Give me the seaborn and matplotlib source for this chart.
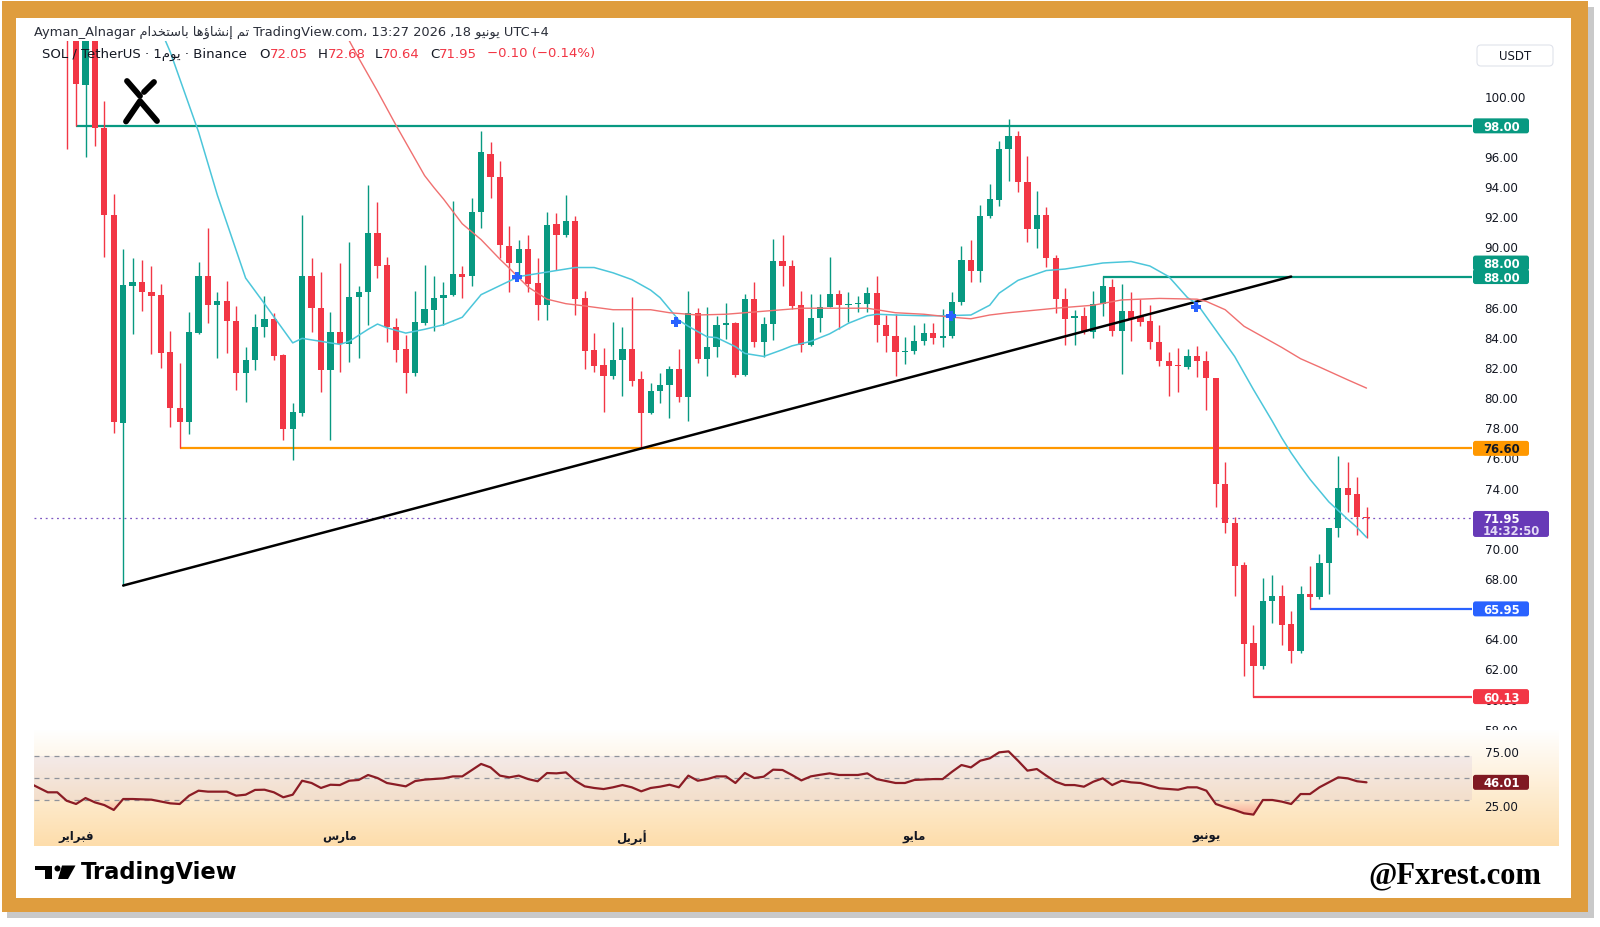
import numpy as np
import pandas as pd
import matplotlib
matplotlib.use("Agg")
import matplotlib.pyplot as plt
import matplotlib.dates as mdates
from matplotlib.colors import LinearSegmentedColormap, to_rgb
from matplotlib.patches import Rectangle, FancyBboxPatch, Polygon, Circle
from matplotlib.path import Path
import seaborn as sns

W, H = 1600, 928
GREEN, RED, TEXT = "#089981", "#F23645", "#131722"

# ========== data ==========
first_day = "2026-01-31"   # candle 1, last candle (139) is 18 June 2026

opens = [108.0, 104.5, 100.73, 104.2, 97.83, 92.11, 78.28, 87.39, 87.61, 86.99,
         86.78, 82.97, 79.25, 78.33, 84.25, 88.06, 86.11, 86.40, 85.07, 81.58,
         82.48, 84.67, 85.18, 82.81, 77.88, 78.95, 88.06, 85.91, 81.80, 84.30,
         83.52, 86.62, 86.99, 90.87, 88.79, 84.67, 83.19, 81.58, 84.90, 85.80,
         86.55, 86.78, 88.17, 88.01, 92.26, 96.13, 94.58, 90.05, 88.88, 89.83,
         87.55, 86.13, 91.49, 90.76, 91.71, 86.55, 83.15, 82.13, 81.38, 82.48,
         83.19, 81.20, 78.92, 80.38, 80.80, 81.86, 79.98, 85.56, 82.53, 83.30,
         84.81, 84.92, 81.49, 86.51, 83.68, 84.85, 89.05, 88.72, 86.11, 83.46,
         85.25, 86.00, 86.84, 86.13, 86.18, 86.18, 86.89, 84.80, 84.03, 82.97,
         83.08, 83.74, 84.23, 83.90, 84.08, 86.29, 89.12, 88.39, 92.00, 93.10,
         96.46, 97.35, 94.25, 91.15, 92.10, 89.23, 86.51, 85.25, 85.36, 84.30,
         86.18, 87.28, 84.37, 85.74, 85.34, 85.07, 83.68, 82.42, 82.13, 82.00,
         82.70, 82.42, 81.27, 74.23, 71.62, 68.86, 63.66, 62.18, 66.45, 66.82,
         64.94, 63.13, 66.93, 66.76, 68.97, 71.29, 73.97, 73.57, 72.05]
highs = [110.0, 106.0, 105.5, 105.0, 99.67, 93.48, 89.83, 89.21, 89.10, 88.68,
         87.50, 84.41, 82.24, 85.63, 88.94, 91.22, 86.95, 87.68, 86.07, 83.30,
         85.51, 86.69, 85.58, 82.86, 79.61, 92.08, 89.23, 88.28, 85.63, 88.90,
         90.27, 87.39, 94.07, 92.92, 89.27, 85.23, 84.12, 87.06, 88.79, 88.06,
         87.66, 92.99, 88.68, 93.19, 97.68, 96.95, 95.64, 91.37, 90.42, 90.76,
         89.21, 92.26, 92.22, 93.43, 91.99, 87.02, 84.25, 83.24, 85.00, 84.63,
         86.62, 81.75, 80.93, 81.60, 82.09, 83.19, 87.02, 85.89, 85.96, 85.40,
         86.24, 84.96, 86.84, 87.66, 85.29, 90.49, 90.76, 89.12, 87.06, 86.84,
         86.84, 89.27, 87.13, 86.95, 86.73, 87.28, 88.06, 85.45, 85.51, 83.96,
         84.81, 84.92, 84.92, 85.85, 87.00, 90.05, 90.42, 92.75, 94.14, 97.02,
         98.45, 97.68, 95.98, 93.65, 92.64, 89.43, 87.22, 85.80, 85.96, 87.06,
         88.06, 87.84, 87.50, 87.00, 86.51, 86.11, 84.81, 83.02, 83.24, 83.19,
         83.41, 83.08, 81.30, 75.72, 72.02, 69.08, 64.90, 67.98, 68.20, 67.53,
         65.83, 67.49, 68.82, 69.59, 71.30, 76.11, 75.67, 74.68, 72.68]
lows = [96.46, 98.00, 95.95, 96.64, 89.32, 77.62, 67.50, 84.19, 85.74, 82.86,
        81.91, 78.04, 76.60, 77.55, 84.19, 84.92, 82.60, 82.93, 80.47, 79.65,
        81.80, 84.01, 82.48, 77.18, 75.80, 78.72, 84.34, 80.36, 77.18, 81.69,
        82.35, 82.57, 84.81, 87.90, 83.68, 82.31, 80.27, 81.40, 84.81, 84.41,
        84.78, 86.73, 86.55, 87.39, 91.20, 93.19, 89.21, 87.00, 87.95, 86.95,
        85.14, 85.14, 88.46, 90.60, 85.45, 81.86, 81.69, 78.99, 81.20, 80.09,
        80.76, 76.60, 78.87, 79.61, 78.59, 79.65, 78.43, 82.26, 81.42, 82.64,
        83.85, 81.31, 81.42, 83.30, 82.64, 83.81, 87.35, 85.85, 83.01, 83.41,
        84.30, 85.96, 84.52, 85.01, 85.62, 85.62, 83.68, 82.97, 81.42, 82.20,
        82.86, 83.46, 83.52, 83.30, 83.90, 86.11, 87.62, 87.66, 91.86, 92.66,
        94.36, 93.59, 90.31, 89.87, 88.61, 85.58, 83.48, 83.48, 84.19, 83.90,
        85.36, 84.03, 81.53, 83.74, 84.74, 83.19, 82.09, 80.05, 80.36, 81.86,
        81.31, 79.14, 72.73, 70.98, 66.83, 61.52, 60.13, 61.96, 65.01, 63.55,
        62.36, 63.00, 65.95, 66.60, 66.93, 70.70, 72.35, 70.85, 70.64]
closes = [104.5, 100.78, 104.2, 97.83, 92.11, 78.33, 87.44, 87.61, 86.95, 86.73,
          82.93, 79.25, 78.33, 84.30, 88.06, 86.11, 86.40, 85.03, 81.58, 82.48,
          84.67, 85.18, 82.75, 77.88, 78.99, 88.06, 85.89, 81.80, 84.30, 83.52,
          86.66, 86.99, 90.87, 88.72, 84.67, 83.15, 81.58, 84.96, 85.85, 86.58,
          86.80, 88.17, 87.95, 92.31, 96.24, 94.58, 90.09, 88.88, 89.83, 87.50,
          86.13, 91.42, 90.76, 91.71, 86.51, 83.08, 82.04, 81.38, 82.48, 83.19,
          81.09, 78.92, 80.38, 80.80, 81.86, 79.98, 85.56, 82.53, 83.30, 84.81,
          84.89, 81.49, 86.51, 83.68, 84.85, 89.01, 88.72, 86.07, 83.46, 85.25,
          86.00, 86.84, 86.13, 86.18, 86.22, 86.89, 84.78, 84.03, 82.97, 83.08,
          83.74, 84.23, 83.90, 84.08, 86.29, 89.12, 88.39, 92.04, 93.14, 96.46,
          97.35, 94.25, 91.15, 92.10, 89.23, 86.51, 85.18, 85.36, 84.30, 86.18,
          87.39, 84.37, 85.74, 85.18, 85.00, 83.68, 82.42, 82.09, 82.04, 82.75,
          82.42, 81.25, 74.23, 71.62, 68.82, 63.62, 62.18, 66.45, 66.82, 64.90,
          63.13, 66.93, 66.76, 68.97, 71.29, 73.95, 73.51, 72.02, 71.95]

# moving averages (candle number -> value), read at sample points
fast_ma_idx = [10, 12, 15, 17, 20, 22, 25, 26, 28, 30, 31, 33, 34, 35, 37, 39, 41, 43, 45, 47,
               49, 51, 53, 55, 57, 59, 61, 63, 64, 66, 67, 69, 70, 72, 73, 75, 77, 78, 80, 82,
               84, 86, 87, 89, 92, 94, 97, 99, 100, 102, 105, 107, 111, 114, 116, 118, 119, 120, 121, 123,
               125, 127, 129, 130, 131, 132, 133, 135, 137, 138, 139]
fast_ma = [105.8, 102.9, 97.6, 93.4, 87.9, 86.2, 83.6, 83.9, 83.7, 83.5, 83.7, 84.5, 84.85, 84.6, 84.25, 84.5, 84.8, 85.3, 86.8, 87.4,
           88.0, 88.2, 88.4, 88.6, 88.6, 88.25, 87.8, 87.1, 86.6, 85.1, 84.7, 84.0, 83.95, 83.35, 82.9, 82.7, 83.15, 83.4, 83.7, 84.2,
           84.9, 85.4, 85.5, 85.45, 85.4, 85.4, 85.45, 86.1, 86.9, 87.75, 88.4, 88.5, 88.9, 89.0, 88.7, 88.0, 87.3, 86.6, 86.2, 84.45,
           82.7, 80.5, 78.4, 77.3, 76.3, 75.4, 74.55, 73.05, 71.9, 71.35, 70.7]
slow_ma_idx = [30, 32, 34, 36, 37, 39, 40, 41, 43, 45, 47, 48, 50, 52, 54, 56, 59, 63, 65, 68,
               71, 75, 79, 82, 86, 89, 92, 95, 97, 99, 101, 106, 110, 113, 117, 121, 122, 124, 126, 128,
               130, 132, 134, 137, 139]
slow_ma = [104.8, 102.5, 100.3, 98.0, 96.9, 94.7, 93.9, 93.15, 91.5, 90.45, 89.15, 88.55, 87.3, 86.5, 86.2, 86.05, 85.8, 85.8, 85.6, 85.45,
           85.5, 85.7, 85.9, 85.9, 85.9, 85.6, 85.5, 85.3, 85.2, 85.45, 85.6, 85.9, 86.1, 86.45, 86.55, 86.5, 86.35, 85.8, 84.7, 84.0,
           83.3, 82.55, 82.0, 81.15, 80.6]
cross_idx = [48.8, 65.7, 94.9, 120.9]
cross_px = [88.0, 85.0, 85.4, 86.0]

trend_idx = [7, 131]
trend_px = [67.5, 88.0]

levels = [98.00, 88.00, 76.60, 65.95, 60.13]
level_start = [2, 111, 13, 133, 127]
level_colors = [GREEN, GREEN, "#FF9800", "#2962FF", RED]
last_price = 71.95

price_ticks = list(range(58, 101, 2))

rsi_idx = [-3, -1, 0, 1, 2, 3, 4, 5, 6, 7,
           8, 10, 12, 13, 14, 15, 16, 18, 19, 20,
           21, 22, 23, 24, 25, 26, 27, 28, 29, 30,
           31, 32, 33, 34, 35, 36, 37, 38, 39, 41,
           42, 43, 45, 46, 47, 48, 49, 50, 51, 52,
           53, 54, 55, 56, 57, 58, 59, 60, 61, 62,
           63, 64, 65, 66, 67, 68, 69, 70, 71, 72,
           73, 74, 75, 76, 77, 78, 79, 80, 81, 82,
           83, 85, 86, 87, 89, 90, 91, 93, 94, 95,
           96, 97, 98, 99, 100, 101, 102, 103, 104, 105,
           106, 107, 108, 109, 110, 111, 112, 113, 114, 115,
           116, 117, 119, 120, 121, 122, 123, 124, 125, 126,
           127, 128, 129, 130, 131, 132, 133, 134, 136, 137,
           138, 139]
rsi_val = [45.5, 36.8, 36.8, 29.0, 26.0, 31.5, 27.5, 25.0, 20.5, 30.6,
           30.6, 30.0, 26.6, 26.0, 33.7, 38.3, 37.4, 37.4, 33.7, 34.6,
           39.0, 39.2, 36.8, 32.2, 34.6, 47.5, 45.4, 40.8, 43.8, 43.5,
           47.5, 48.2, 52.8, 50.0, 45.4, 43.8, 42.3, 47.2, 48.5, 49.7,
           51.5, 51.5, 63.0, 59.8, 52.2, 50.6, 52.2, 49.0, 47.0, 54.6,
           54.3, 55.2, 47.5, 42.3, 40.8, 39.8, 41.4, 43.5, 41.4, 37.7,
           40.8, 42.0, 43.8, 41.4, 52.2, 47.5, 49.0, 51.5, 51.5, 45.4,
           54.6, 50.0, 51.2, 57.7, 57.4, 52.8, 47.8, 51.5, 53.0, 54.3,
           52.8, 52.8, 54.3, 49.0, 45.4, 45.4, 48.2, 49.0, 49.0, 55.8,
           62.0, 59.8, 66.0, 68.2, 73.7, 74.6, 66.0, 56.8, 58.3, 52.2,
           46.6, 43.5, 43.5, 42.0, 46.6, 49.7, 43.5, 47.5, 46.0, 45.4,
           43.0, 40.5, 39.2, 41.4, 41.4, 38.3, 26.0, 23.0, 20.5, 17.4,
           16.2, 29.7, 29.7, 28.2, 26.0, 35.2, 35.2, 41.4, 50.6, 49.7,
           47.0, 46.01]
rsi_ticks = [25, 50, 75]
last_rsi = 46.01

months = ["2026-02-01", "2026-03-01", "2026-04-01", "2026-05-01", "2026-06-01"]
month_names = ["فبراير", "مارس", "أبريل", "مايو", "يونيو"]

# ========== Arabic shaping (matplotlib draws no joined forms / RTL) ==========
AR_FORMS = {"ا": (0xFE8D, 2), "أ": (0xFE83, 2), "إ": (0xFE87, 2), "ؤ": (0xFE85, 2),
            "ب": (0xFE8F, 4), "ت": (0xFE95, 4), "خ": (0xFEA5, 4), "د": (0xFEA9, 2),
            "ر": (0xFEAD, 2), "س": (0xFEB1, 4), "ش": (0xFEB5, 4), "ف": (0xFED1, 4),
            "ل": (0xFEDD, 4), "م": (0xFEE1, 4), "ن": (0xFEE5, 4), "ه": (0xFEE9, 4),
            "و": (0xFEED, 2), "ي": (0xFEF1, 4)}


def arabic(text):
    out = []
    for i, ch in enumerate(text):
        if ch not in AR_FORMS:
            out.append(ch)
            continue
        base, n = AR_FORMS[ch]
        prev = text[i - 1] if i > 0 else ""
        nxt = text[i + 1] if i + 1 < len(text) else ""
        jp = prev in AR_FORMS and AR_FORMS[prev][1] == 4
        jn = nxt in AR_FORMS and n == 4
        k = 3 if (jp and jn) else 1 if jp else 2 if jn else 0
        out.append(chr(base + k))
    return "".join(out)[::-1]


# ========== figure ==========
sns.set_theme(style="white")
plt.rcParams["font.family"] = ["DejaVu Sans"]
plt.rcParams["axes.unicode_minus"] = False

fig = plt.figure(figsize=(W / 100, H / 100), dpi=100, facecolor="white")


def rect(x0, y0, x1, y1):
    return [x0 / W, 1 - y1 / H, (x1 - x0) / W, (y1 - y0) / H]


def pixel_axes(zorder, label):
    a = fig.add_axes([0, 0, 1, 1], zorder=zorder, label=label)
    a.axis("off")
    return a


# frame + pane gradient
bg = pixel_axes(0, "bg")
bg.add_patch(Rectangle((7, 8), 1587, 911, fc="#C9C9C9", ec="none"))
bg.add_patch(Rectangle((2, 2), 1586, 911, fc="#DF9D3E", ec="none"))
bg.add_patch(Rectangle((16, 19), 1555, 880, fc="white", ec="none"))
ramp = np.linspace(0, 1, 256).reshape(-1, 1)
bg.imshow(ramp, cmap=LinearSegmentedColormap.from_list("m", ["#FFFDFA", "#FDDDAB"]),
          extent=(33.7, 1558, 730, 42), aspect="auto")
bg.set_xlim(0, W)
bg.set_ylim(H, 0)

base = mdates.date2num(pd.Timestamp(first_day))


def day(i):
    return base + np.asarray(i, dtype=float) - 1


x_left, x_right = day(-2.5), day(150.2)

# ---- price pane ----
ax = fig.add_axes(rect(33.7, 42, 1472, 730), zorder=1)
ax.set_facecolor("none")
for s in ax.spines.values():
    s.set_visible(False)

x = day(np.arange(1, len(closes) + 1))
o, hi, lo, c = map(np.array, (opens, highs, lows, closes))
col = np.where(c >= o, GREEN, RED)
ax.vlines(x, lo, hi, colors=col, lw=1.0, zorder=3)
ax.bar(x, np.maximum(np.abs(c - o), 0.07), bottom=np.minimum(o, c), width=0.66,
       color=col, linewidth=0, zorder=4)

for p, s, colr in zip(levels, level_start, level_colors):
    ax.hlines(p, day(s), x_right, color=colr, lw=1.6, zorder=2)
ax.axhline(last_price, color="#7E57C2", lw=0.9, ls=(0, (1.5, 3)), zorder=2)

sns.lineplot(x=day(trend_idx), y=trend_px, ax=ax, color="black", lw=1.8, zorder=5)
sns.lineplot(x=day(fast_ma_idx), y=fast_ma, ax=ax, color="#4CC6DA", lw=1.1,
             sort=False, estimator=None, zorder=5)
sns.lineplot(x=day(slow_ma_idx), y=slow_ma, ax=ax, color="#F07070", lw=1.0,
             sort=False, estimator=None, zorder=5)
ax.scatter(day(cross_idx), cross_px, marker="P", s=60, color="#2962FF", lw=0, zorder=6)

ax.set_xlim(x_left, x_right)
ax.set_ylim(57.98, 103.63)
ax.set_xticks([])
ax.yaxis.tick_right()
ax.set_yticks(price_ticks)
ax.set_yticklabels([f"{v:.2f}" for v in price_ticks])
ax.tick_params(axis="y", length=0, pad=9, labelsize=8.6, labelcolor=TEXT)
ax.grid(False)

# ---- RSI pane ----
rbg = fig.add_axes(rect(33.7, 730.5, 1558, 847), zorder=2)
rbg.imshow(ramp, cmap=LinearSegmentedColormap.from_list("r", ["#FFFFFF", "#FDDDAB"]),
           extent=(0, 1, 0, 1), aspect="auto")
rbg.axis("off")

rx = fig.add_axes(rect(33.7, 731.7, 1472, 822), zorder=3)
rx.set_facecolor("none")
for s in rx.spines.values():
    s.set_visible(False)
rx.axhspan(30, 70, color="#7E57C2", alpha=0.08, lw=0)
for lvl in (70, 50, 30):
    rx.axhline(lvl, color="#8F939C", lw=0.9, ls=(0, (4, 4)), zorder=1)

rxs = day(rsi_idx)
rv = np.array(rsi_val)
for cond, ref, lo_y, hi_y, colr, alphas in [(rv < 30, 30, 0, 30, RED, (0.75, 0.0)),
                                            (rv > 70, 70, 70, 100, GREEN, (0.0, 0.6))]:
    poly = rx.fill_between(rxs, rv, ref, where=cond, interpolate=True,
                           facecolor="none", lw=0)
    paths = poly.get_paths()
    if paths:
        g = np.zeros((64, 1, 4))
        g[..., :3] = to_rgb(colr)
        g[:, 0, 3] = np.linspace(alphas[0], alphas[1], 64)
        im = rx.imshow(g, extent=(x_left, x_right, lo_y, hi_y), origin="lower",
                       aspect="auto", zorder=2)
        im.set_clip_path(Path.make_compound_path(*paths), rx.transData)

sns.lineplot(x=rxs, y=rv, ax=rx, color="#8B1C25", lw=1.6, sort=False,
             estimator=None, zorder=4)
rx.set_xlim(x_left, x_right)
rx.set_ylim(10.3, 93.7)
rx.yaxis.tick_right()
rx.set_yticks(rsi_ticks)
rx.set_yticklabels([f"{v:.2f}" for v in rsi_ticks])
rx.tick_params(axis="y", length=0, pad=9, labelsize=8.6, labelcolor=TEXT)
rx.set_xticks(mdates.date2num(pd.to_datetime(months)))
rx.set_xticklabels([arabic(m) for m in month_names], fontweight="bold",
                   fontsize=8.5, color=TEXT)
rx.tick_params(axis="x", length=0, pad=6)
rx.grid(False)

# ---- overlay: texts, tags, logos ----
top = pixel_axes(10, "top")

header = ("Ayman_Alnagar " + arabic("تم إنشاؤها باستخدام") +
          " TradingView.com، 13:27 2026 ,18 " + arabic("يونيو") + " UTC+4")
top.text(34, 32, header, fontsize=9.4, color="#2A2E39", va="center", ha="left")

legend_parts = [("SOL / TetherUS · 1" + arabic("يوم") + " · Binance", TEXT, 0),
                ("O", TEXT, 9), ("72.05", RED, 0), ("H", TEXT, 7), ("72.68", RED, 0),
                ("L", TEXT, 7), ("70.64", RED, 0), ("C", TEXT, 7), ("71.95", RED, 0),
                ("−0.10 (−0.14%)", RED, 7)]
prev = None
for txt, colr, gap in legend_parts:
    if prev is None:
        prev = top.text(42, 54, txt, fontsize=9.5, color=colr, va="center", ha="left")
    else:
        prev = top.annotate(txt, xy=(1, 0.5), xycoords=prev, xytext=(gap, 0),
                            textcoords="offset points", fontsize=9.5, color=colr,
                            va="center", ha="left")


def tag(axis, value, label, face, fg="white", lift=0.0, width=56, height=15):
    yy = H - axis.transData.transform((x_left, value))[1] - lift
    top.add_patch(FancyBboxPatch((1473, yy - height / 2), width, height,
                                 boxstyle="round,pad=0,rounding_size=2.5",
                                 fc=face, ec="none", zorder=5))
    top.text(1483, yy + 0.5, label, color=fg, fontsize=8.4, fontweight="bold",
             va="center", ha="left", zorder=6)
    return yy


tag(ax, 98.0, "98.00", GREEN)
tag(ax, 88.0, "88.00", GREEN, lift=13.5)
tag(ax, 88.0, "88.00", GREEN)
tag(ax, 76.6, "76.60", "#FF9800", fg=TEXT)
tag(ax, 65.95, "65.95", "#2962FF")
tag(ax, 60.13, "60.13", RED)
tag(rx, last_rsi, f"{last_rsi:.2f}", "#801922")

yp = H - ax.transData.transform((x_left, last_price))[1]
top.add_patch(FancyBboxPatch((1473, yp - 7.5), 76, 26, boxstyle="round,pad=0,rounding_size=2.5",
                             fc="#673AB7", ec="none", zorder=5))
top.text(1483, yp + 0.5, f"{last_price:.2f}", color="white", fontsize=8.4, fontweight="bold",
         va="center", ha="left", zorder=6)
top.text(1483, yp + 12.5, "14:32:50", color="#E3DAF5", fontsize=8.4, fontweight="bold",
         va="center", ha="left", zorder=6)

top.add_patch(FancyBboxPatch((1477, 46), 76, 21, boxstyle="round,pad=0,rounding_size=4",
                             fc="white", ec="#E0E3EB", lw=0.8, zorder=5))
top.text(1515, 56.5, "USDT", fontsize=8.5, color=TEXT, ha="center", va="center", zorder=6)

# X logo in the chart corner
for stroke in ([(127, 82), (140, 97)], [(126, 122.5), (140, 102), (157, 122)],
               [(154, 83), (144, 93)]):
    sx, sy = zip(*stroke)
    top.plot(sx, sy, color="black", lw=4.2, solid_capstyle="round",
             solid_joinstyle="round", zorder=6)

# TradingView mark and name
top.add_patch(Rectangle((35, 866.5), 17, 4.6, fc="black", ec="none"))
top.add_patch(Rectangle((45, 866.5), 7, 13.5, fc="black", ec="none"))
top.add_patch(Circle((57.5, 869.5), 3.0, fc="black", ec="none"))
top.add_patch(Polygon([(62, 866.5), (75.5, 866.5), (68, 880), (58, 880)], closed=True,
                      fc="black", ec="none"))
top.text(81, 873, "TradingView", fontsize=16.3, fontweight="bold", color="black",
         va="center", ha="left")

top.text(1541, 876, "@Fxrest.com", fontsize=22, fontweight="bold", color="black",
         family="Liberation Serif", va="center", ha="right")

top.set_xlim(0, W)
top.set_ylim(H, 0)

fig.savefig("out.png", dpi=100)
